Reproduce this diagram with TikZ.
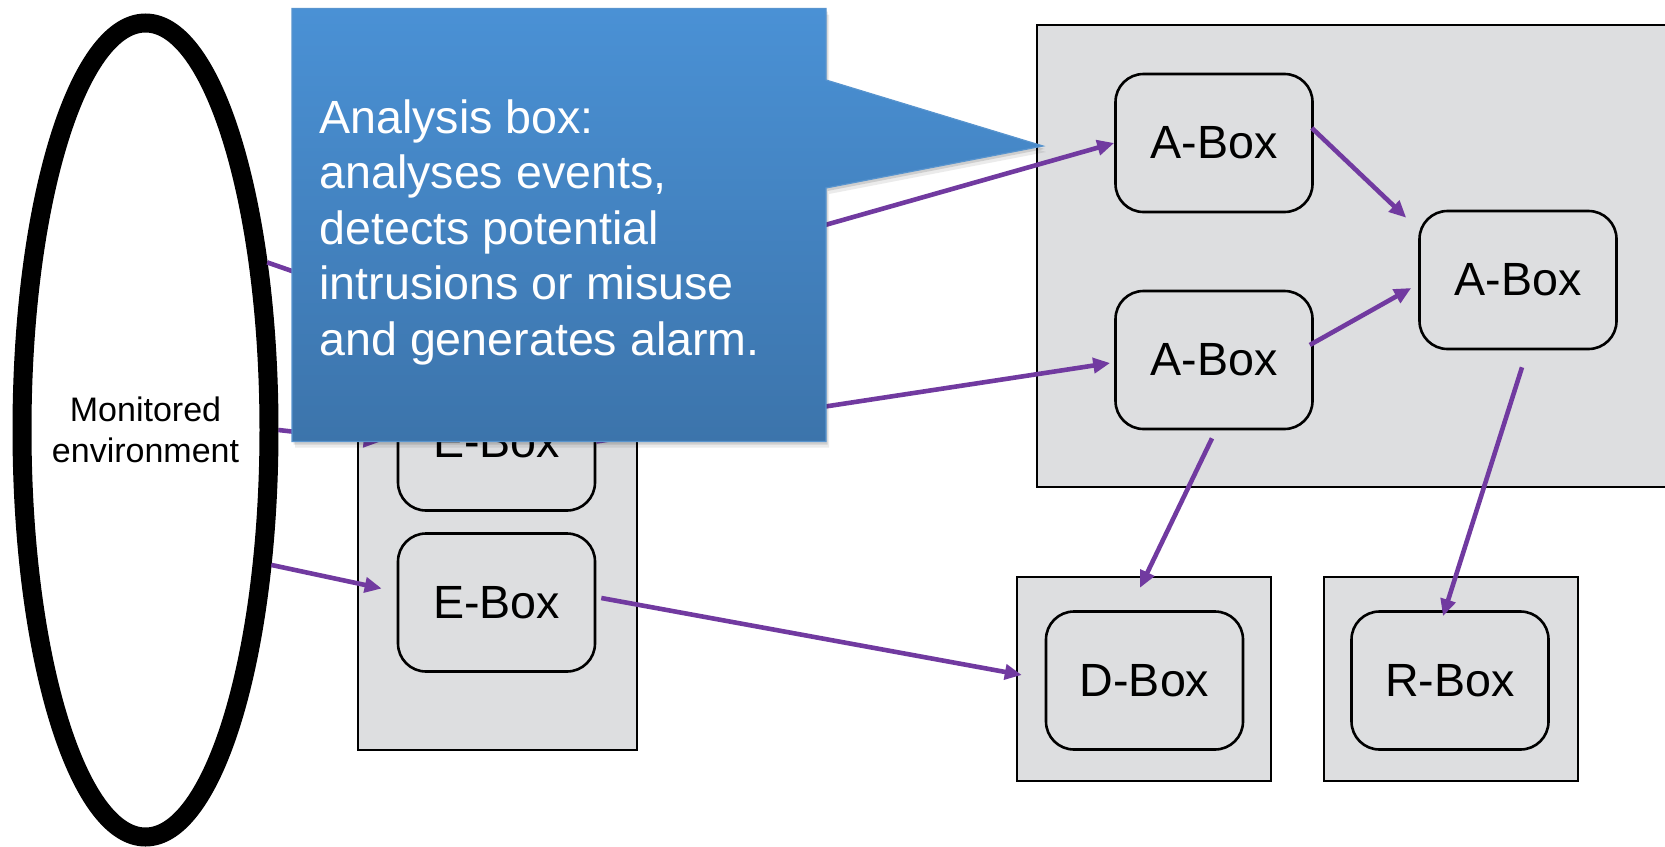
\documentclass[tikz,border=0pt]{standalone}
\usepackage{fontspec}
\setmainfont{Liberation Sans}
\usetikzlibrary{shapes.geometric,arrows.meta,calc}

\definecolor{boxgray}{RGB}{221,222,224}
\definecolor{arrpurple}{RGB}{113,58,160}
\definecolor{notetop}{RGB}{74,145,213}
\definecolor{notebot}{RGB}{60,116,171}
\definecolor{noteedge}{RGB}{88,148,206}

\tikzset{
  cont/.style={draw=black, fill=boxgray, line width=1.2pt, rectangle, inner sep=0pt},
  rbox/.style={draw=black, fill=boxgray, line width=1.3pt, rectangle,
    rounded corners=14pt, minimum width=98.5pt, minimum height=69pt,
    inner sep=0pt, font=\fontsize{23.3}{28}\selectfont},
  arr/.style={draw=arrpurple, line width=2.3pt, -{Triangle[length=8.5pt,width=7.5pt]}},
}

% outline of the explanatory callout (rectangle with a pointer to the right)
\def\notepath{(292,8.5) -- (826,8.5) -- (826,80) -- (1043,146) -- (826,188) -- (826,441.5) -- (292,441.5) -- cycle}

\begin{document}
\begin{tikzpicture}[x=0.5pt,y=-0.5pt]
\useasboundingbox (0,0) rectangle (1665,846);

% containers
\node[cont, minimum width=341.5pt, minimum height=231pt] (acont) at (1378.5,256) {};
\node[cont, minimum width=139.5pt, minimum height=308.5pt] (econt) at (497.5,441.5) {};
\node[cont, minimum width=127pt, minimum height=102pt] (dcont) at (1144,679) {};
\node[cont, minimum width=127pt, minimum height=102pt] (rcont) at (1451,679) {};

% boxes
\node[rbox] (e2) at (496.5,441.5) {E-Box};
\node[rbox] (e3) at (496.5,602.5) {E-Box};
\node[rbox] (a1) at (1214,143) {A-Box};
\node[rbox] (a2) at (1214,360) {A-Box};
\node[rbox] (a3) at (1518,280) {A-Box};
\node[rbox] (dbox) at (1144.5,680.5) {D-Box};
\node[rbox] (rbx) at (1450,680.5) {R-Box};

% monitored environment (negative inner xsep so the minimum size sets the radii)
\node[ellipse, draw=black, line width=9.5pt, fill=white, minimum width=123.5pt,
  minimum height=407pt, inner xsep=-12pt, inner ysep=0pt, align=center,
  font=\fontsize{17}{20.5}\selectfont] (env) at (145.5,430) {Monitored\\environment};

% free ends of connectors running under the callout
\coordinate (ein1) at (381,302);
\coordinate (eout1) at (596,290);

% connectors
\draw[arr] (env.54) -- (ein1);
\draw[arr] (env.east) -- ([shift={(-16,0)}]e2.west);
\draw[arr] (env.-47) -- ([shift={(-15,-14)}]e3.west);
\draw[arr] (eout1) -- (a1.west);
\draw[arr] (e2.east) -- ([shift={(-4,3)}]a2.west);
\draw[arr] ([shift={(5,-4.5)}]e3.east) -- ([shift={(6,-4)}]dcont.west);
\draw[arr] ([shift={(-2,-15)}]a1.east) -- ([shift={(-12,8)}]a3.north west);
\draw[arr] ([shift={(-4,-15)}]a2.east) -- ([shift={(-7,8)}]a3.west);
\draw[arr] ([shift={(-2,8)}]a2.south) -- ([shift={(-4,12)}]dcont.north);
\draw[arr] ([shift={(4,17)}]a3.south) -- ([shift={(-7,6)}]rbx.north);

% callout: soft shadow, shaded body, text
\begin{scope}[shift={(3,6)}]
  \fill[black, opacity=0.08] \notepath;
\end{scope}
\begin{scope}[shift={(1.5,3)}]
  \fill[black, opacity=0.12] \notepath;
\end{scope}
\shade[top color=notetop, bottom color=notebot, draw=noteedge, line width=0.6pt] \notepath;
\node[anchor=north west, inner sep=0pt, align=left, text=white,
  font=\fontsize{23.3}{27.75}\selectfont] (note) at (319,99)
  {Analysis box:\\analyses events,\\detects potential\\intrusions or misuse\\and generates alarm.};
\end{tikzpicture}
\end{document}
